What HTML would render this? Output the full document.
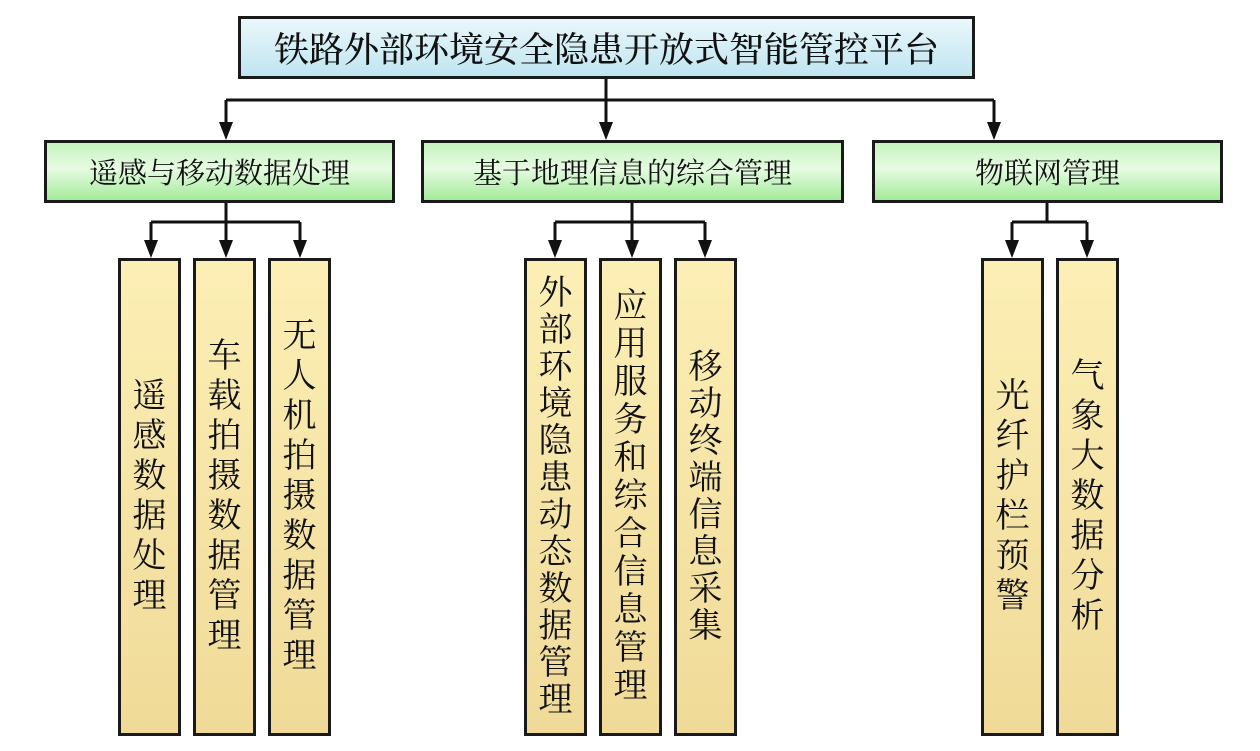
<!DOCTYPE html>
<html><head><meta charset="utf-8"><style>
body{margin:0;width:1260px;height:751px;background:#fff;position:relative;overflow:hidden;font-family:"Liberation Serif","Noto Serif CJK SC",serif;color:#111}
.b{position:absolute;box-sizing:border-box;border:3px solid #1a1a1a;display:flex;align-items:center;justify-content:center}
.top{left:238px;top:16px;width:737px;height:63px;background:linear-gradient(#eaf7fb,#bfe5f1);font-size:35px;font-weight:500}
.g{top:140px;height:63px;background:linear-gradient(#c6f3bf,#e6fbe2 45%,#a3eb9a);font-size:29px}
.y{top:258px;width:63px;height:478px;background:linear-gradient(#fcefb5,#f0da98);flex-direction:column;font-size:34px}
.y span{display:block;line-height:37px}
.y.w span{line-height:40px}
.y.m span{line-height:38px}
</style></head><body>
<svg width="1260" height="751" style="position:absolute;left:0;top:0">
<g stroke="#111" stroke-width="3" fill="none">
<path d="M606 79V100M226 100H994"/>
<path d="M226 203V222M151 222H300M632 203V222M555 222H705M1047 203V222M1012 222H1087"/>
</g>
<g fill="#111">
<path d="M226 100V124" stroke="#111" stroke-width="3"/><path d="M219 122H233L226 140Z"/>
<path d="M606 100V124" stroke="#111" stroke-width="3"/><path d="M599 122H613L606 140Z"/>
<path d="M994 100V124" stroke="#111" stroke-width="3"/><path d="M987 122H1001L994 140Z"/>
<g stroke="#111" stroke-width="3"><path d="M151 222V242M226 222V242M300 222V242M555 222V242M632 222V242M705 222V242M1012 222V242M1087 222V242"/></g>
<path d="M144 240H158L151 258Z"/><path d="M219 240H233L226 258Z"/><path d="M293 240H307L300 258Z"/>
<path d="M548 240H562L555 258Z"/><path d="M625 240H639L632 258Z"/><path d="M698 240H712L705 258Z"/>
<path d="M1005 240H1019L1012 258Z"/><path d="M1080 240H1094L1087 258Z"/>
</g>
</svg>
<div class="b top">铁路外部环境安全隐患开放式智能管控平台</div>
<div class="b g" style="left:44px;width:351px">遥感与移动数据处理</div>
<div class="b g" style="left:421px;width:423px">基于地理信息的综合管理</div>
<div class="b g" style="left:872px;width:351px">物联网管理</div>

<div class="b y w" style="left:118px"><span>遥</span><span>感</span><span>数</span><span>据</span><span>处</span><span>理</span></div>
<div class="b y w" style="left:193px"><span>车</span><span>载</span><span>拍</span><span>摄</span><span>数</span><span>据</span><span>管</span><span>理</span></div>
<div class="b y w" style="left:268px"><span>无</span><span>人</span><span>机</span><span>拍</span><span>摄</span><span>数</span><span>据</span><span>管</span><span>理</span></div>
<div class="b y" style="left:524px"><span>外</span><span>部</span><span>环</span><span>境</span><span>隐</span><span>患</span><span>动</span><span>态</span><span>数</span><span>据</span><span>管</span><span>理</span></div>
<div class="b y m" style="left:599px"><span>应</span><span>用</span><span>服</span><span>务</span><span>和</span><span>综</span><span>合</span><span>信</span><span>息</span><span>管</span><span>理</span></div>
<div class="b y" style="left:674px"><span>移</span><span>动</span><span>终</span><span>端</span><span>信</span><span>息</span><span>采</span><span>集</span></div>
<div class="b y w" style="left:981px"><span>光</span><span>纤</span><span>护</span><span>栏</span><span>预</span><span>警</span></div>
<div class="b y w" style="left:1056px"><span>气</span><span>象</span><span>大</span><span>数</span><span>据</span><span>分</span><span>析</span></div>
</body></html>
